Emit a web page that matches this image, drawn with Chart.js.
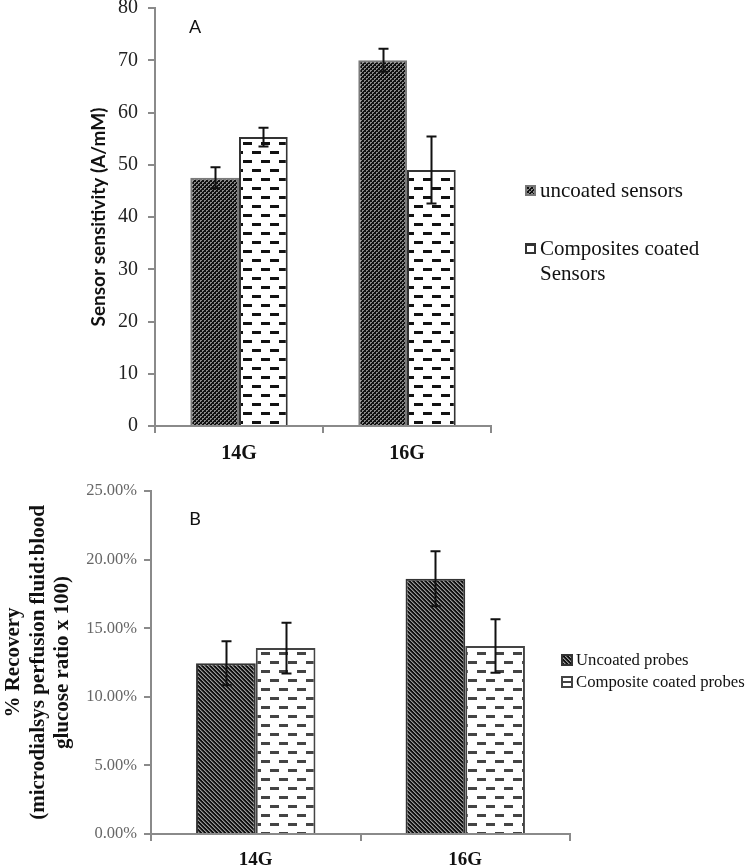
<!DOCTYPE html>
<html>
<head>
<meta charset="utf-8">
<title>Sensor sensitivity and % recovery</title>
<script src="https://cdn.jsdelivr.net/npm/chart.js@4.4.0/dist/chart.umd.min.js"></script>
<style>
    body { margin: 0; background: #fff; }
    #page { position: relative; width: 746px; height: 866px; overflow: hidden; }
    .box { position: absolute; left: 0; width: 746px; }
    .tag { position: absolute; font-family: Lato, sans-serif; font-size: 18px; line-height: 18px; color: #111; transform: translate(-50%, -50%); }
    .leg { position: absolute; font-family: "Liberation Serif", serif; color: #111; white-space: nowrap; transform: translateY(-50%); }
    .sw { position: absolute; }
</style>
</head>
<body>
<div id="page">
    <div class="box" style="top:-14px;height:484px"><canvas id="chart-a"></canvas></div>
    <div class="box" style="top:460px;height:406px"><canvas id="chart-b"></canvas></div>

    <div class="tag" style="left:195px;top:26px">A</div>
    <div class="tag" style="left:195px;top:518px">B</div>

    <!-- legend A -->
    <canvas class="sw" id="sw-a1" width="11" height="11" style="left:525px;top:185px"></canvas>
    <div class="leg" style="left:540px;top:190px;font-size:21px">uncoated sensors</div>
    <canvas class="sw" id="sw-a2" width="11" height="11" style="left:525px;top:243px"></canvas>
    <div class="leg" style="left:540px;top:248px;font-size:21px">Composites coated</div>
    <div class="leg" style="left:540px;top:273px;font-size:21px">Sensors</div>

    <!-- legend B -->
    <canvas class="sw" id="sw-b1" width="12" height="12" style="left:561px;top:654px"></canvas>
    <div class="leg" style="left:576px;top:660px;font-size:16.7px">Uncoated probes</div>
    <canvas class="sw" id="sw-b2" width="12" height="12" style="left:561px;top:676px"></canvas>
    <div class="leg" style="left:576px;top:682px;font-size:16.7px">Composite coated probes</div>
</div>

<script>
// categories (needle gauge)
const categories = ['14G', '16G'];

// panel A - sensor sensitivity (A/mM)
const uncoatedA = [47.5, 70.0];
const uncoatedErrA = [2.0, 2.2];
const coatedA = [55.3, 49.0];
const coatedErrA = [1.8, 6.4];

// panel B - % recovery (values in percent)
const uncoatedB = [12.45, 18.6];
const uncoatedErrB = [1.6, 2.0];
const coatedB = [13.55, 13.7];
const coatedErrB = [1.85, 1.95];
const yTicksB = ['0.00%', '5.00%', '10.00%', '15.00%', '20.00%', '25.00%'];

// --- fill patterns ---
function makeTile(w, h, draw) {
    const c = document.createElement('canvas');
    c.width = w;
    c.height = h;
    draw(c.getContext('2d'));
    return c;
}

function checkerTile() {
    return makeTile(4, 4, (g) => {
        g.fillStyle = '#8a8a8a';
        g.fillRect(0, 0, 4, 4);
        g.fillStyle = '#111';
        g.fillRect(0, 0, 2, 2);
        g.fillRect(2, 2, 2, 2);
        g.fillRect(3, 1, 1, 1);
        g.fillRect(1, 3, 1, 1);
    });
}

function diagTile() {
    return makeTile(4, 4, (g) => {
        for (let x = 0; x < 4; x++) {
            for (let y = 0; y < 4; y++) {
                const k = ((x - y) % 4 + 4) % 4;
                g.fillStyle = k < 2 ? '#111' : (k === 2 ? '#9a9a9a' : '#555');
                g.fillRect(x, y, 1, 1);
            }
        }
    });
}

function dashTile(color) {
    return makeTile(18, 18, (g) => {
        g.fillStyle = '#fff';
        g.fillRect(0, 0, 18, 18);
        g.fillStyle = color;
        g.fillRect(0, 3, 9, 3);
        g.fillRect(9, 12, 9, 3);
    });
}

const probeCtx = document.createElement('canvas').getContext('2d');
const patCheck = probeCtx.createPattern(checkerTile(), 'repeat');
const patDiag = probeCtx.createPattern(diagTile(), 'repeat');
const patDashA = probeCtx.createPattern(dashTile('#111'), 'repeat');
const patDashB = probeCtx.createPattern(dashTile('#444'), 'repeat');

// --- error bars drawn through the y scale ---
const errorBars = {
    id: 'errorBars',
    afterDatasetsDraw(chart) {
        const ctx = chart.ctx;
        const yScale = chart.scales.y;
        ctx.save();
        ctx.strokeStyle = '#111';
        ctx.lineWidth = 2;
        chart.data.datasets.forEach((ds, i) => {
            const meta = chart.getDatasetMeta(i);
            meta.data.forEach((bar, j) => {
                const v = ds.data[j];
                const e = ds.errors[j];
                const yTop = yScale.getPixelForValue(v + e);
                const yBot = yScale.getPixelForValue(v - e);
                const x = Math.round(bar.x) + 0.5;
                ctx.beginPath();
                ctx.moveTo(x, yTop);
                ctx.lineTo(x, yBot);
                ctx.moveTo(x - 5, yTop);
                ctx.lineTo(x + 5, yTop);
                ctx.moveTo(x - 5, yBot);
                ctx.lineTo(x + 5, yBot);
                ctx.stroke();
            });
        });
        ctx.restore();
    }
};

function axisStyle() {
    return {
        grid: { drawOnChartArea: false, drawTicks: true, tickLength: 7, color: '#8a8a8a', lineWidth: 2 },
        border: { display: true, color: '#8a8a8a', width: 2 }
    };
}

// --- panel A ---
new Chart(document.getElementById('chart-a').getContext('2d'), {
    type: 'bar',
    data: {
        labels: categories,
        datasets: [{
            label: 'uncoated sensors',
            data: uncoatedA,
            errors: uncoatedErrA,
            backgroundColor: patCheck,
            borderColor: '#7a7a7a',
            borderWidth: 2
        }, {
            label: 'Composites coated Sensors',
            data: coatedA,
            errors: coatedErrA,
            backgroundColor: patDashA,
            borderColor: '#333',
            borderWidth: 2
        }]
    },
    options: {
        responsive: true,
        maintainAspectRatio: false,
        animation: false,
        categoryPercentage: 0.58,
        barPercentage: 1,
        layout: { padding: { left: 87, right: 255, top: 7, bottom: 0 } },
        plugins: { legend: { display: false }, tooltip: { enabled: false } },
        scales: {
            x: {
                ...axisStyle(),
                ticks: { color: '#111', padding: 9, font: { family: 'Liberation Serif', size: 20, weight: 'bold' } },
                afterFit: (s) => { s.height = 44; }
            },
            y: {
                ...axisStyle(),
                min: 0,
                max: 80,
                ticks: { stepSize: 10, color: '#222', padding: 10, font: { family: 'Liberation Serif', size: 20 } },
                title: {
                    display: true,
                    text: 'Sensor sensitivity (A/mM)',
                    color: '#111',
                    padding: 0,
                    font: { family: 'Lato', size: 19, weight: 'bold' }
                },
                afterFit: (s) => { s.width = 68; }
            }
        }
    },
    plugins: [errorBars]
});

// --- panel B ---
new Chart(document.getElementById('chart-b').getContext('2d'), {
    type: 'bar',
    data: {
        labels: categories,
        datasets: [{
            label: 'Uncoated probes',
            data: uncoatedB,
            errors: uncoatedErrB,
            backgroundColor: patDiag,
            borderColor: '#333',
            borderWidth: 2
        }, {
            label: 'Composite coated probes',
            data: coatedB,
            errors: coatedErrB,
            backgroundColor: patDashB,
            borderColor: '#444',
            borderWidth: 2
        }]
    },
    options: {
        responsive: true,
        maintainAspectRatio: false,
        animation: false,
        categoryPercentage: 0.57,
        barPercentage: 1,
        layout: { padding: { left: 2, right: 176, top: 31, bottom: 0 } },
        plugins: { legend: { display: false }, tooltip: { enabled: false } },
        scales: {
            x: {
                ...axisStyle(),
                ticks: { color: '#111', padding: 8, font: { family: 'Liberation Serif', size: 19, weight: 'bold' } },
                afterFit: (s) => { s.height = 32; }
            },
            y: {
                ...axisStyle(),
                min: 0,
                max: 25,
                ticks: {
                    stepSize: 5,
                    color: '#666',
                    padding: 7,
                    font: { family: 'Liberation Serif', size: 16.5 },
                    callback: (v, i) => yTicksB[i]
                },
                title: {
                    display: true,
                    text: ['% Recovery', '(microdialsys perfusion fluid:blood', 'glucose ratio x 100)'],
                    color: '#111',
                    padding: 0,
                    font: { family: 'Liberation Serif', size: 21, weight: 'bold', lineHeight: 1.15 }
                },
                afterFit: (s) => { s.width = 149; }
            }
        }
    },
    plugins: [errorBars]
});

// --- legend swatches ---
function paintSwatch(id, fill, border, band) {
    const c = document.getElementById(id);
    const g = c.getContext('2d');
    g.fillStyle = fill;
    g.fillRect(0, 0, c.width, c.height);
    g.strokeStyle = border;
    g.lineWidth = 2;
    g.strokeRect(1, 1, c.width - 2, c.height - 2);
    if (band) {
        g.fillStyle = border;
        g.fillRect(band[0], band[1], band[2], band[3]);
    }
}
paintSwatch('sw-a1', patCheck, '#777');
paintSwatch('sw-a2', '#fff', '#333', [0, 0, 11, 3]);
paintSwatch('sw-b1', patDiag, '#333');
paintSwatch('sw-b2', '#fff', '#444', [2, 5, 8, 2]);
</script>
</body>
</html>
